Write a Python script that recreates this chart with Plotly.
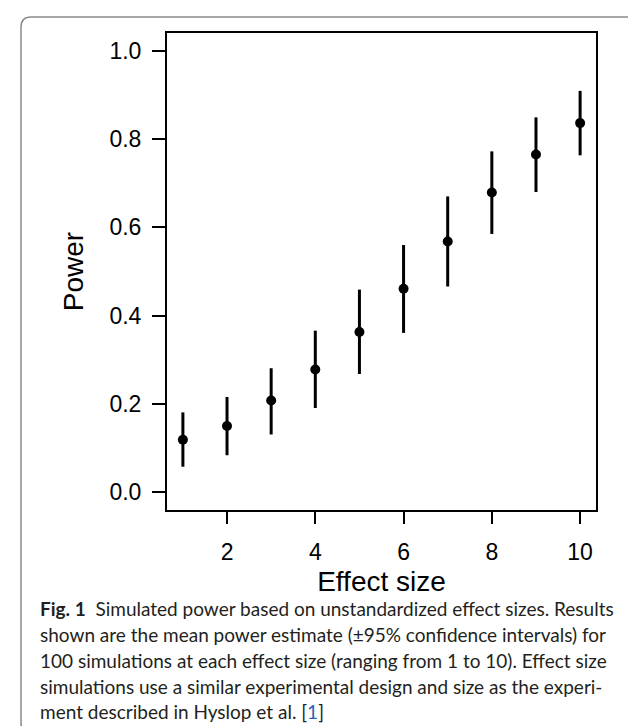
import plotly.graph_objects as go

# ---- data ----
effect_size = [1, 2, 3, 4, 5, 6, 7, 8, 9, 10]
power_mean = [0.119, 0.150, 0.208, 0.278, 0.363, 0.461, 0.568, 0.679, 0.765, 0.836]
power_lo = [0.058, 0.084, 0.131, 0.191, 0.268, 0.361, 0.466, 0.585, 0.680, 0.763]
power_hi = [0.181, 0.216, 0.281, 0.366, 0.459, 0.560, 0.670, 0.772, 0.849, 0.909]
x_ticks = [2, 4, 6, 8, 10]
y_ticks = [0.0, 0.2, 0.4, 0.6, 0.8, 1.0]
y_tick_labels = ["0.0", "0.2", "0.4", "0.6", "0.8", "1.0"]
x_title = "Effect size"
y_title = "Power"
caption_lines = [
    "<b>Fig. 1</b>  Simulated power based on unstandardized effect sizes. Results",
    "shown are the mean power estimate (\u00b195% confidence intervals) for",
    "100 simulations at each effect size (ranging from 1 to 10). Effect size",
    "simulations use a similar experimental design and size as the experi-",
    "ment described in Hyslop et al. [<span style='color:#2f5fb3'>1</span>]",
]

# ---- layout geometry ----
W, H = 636, 726
ML, MR, MT, MB = 159, 48, 25, 224
PW, PH = W - ML - MR, H - MT - MB


def px(xp):
    return (xp - ML) / PW


def py(yp):
    return (H - MB - yp) / PH


err_plus = [h - m for h, m in zip(power_hi, power_mean)]
err_minus = [m - l for m, l in zip(power_mean, power_lo)]

fig = go.Figure()
fig.add_trace(go.Scatter(
    x=effect_size, y=power_mean, mode="markers",
    marker=dict(color="black", size=10),
    error_y=dict(type="data", symmetric=False, array=err_plus, arrayminus=err_minus,
                 color="black", thickness=3, width=0),
    showlegend=False,
))

axis_font = dict(family="Liberation Sans, Arial, sans-serif", size=23, color="black")
fig.update_xaxes(
    range=[0.64, 10.36], tickvals=x_ticks, showgrid=False, zeroline=False,
    showline=True, linecolor="black", linewidth=2, mirror=True,
    ticks="outside", ticklen=12, tickwidth=2, tickcolor="black",
    tickfont=axis_font, ticklabelstandoff=8,
    title=dict(text=x_title, font=dict(family="Liberation Sans, Arial, sans-serif", size=28, color="black"), standoff=8),
)
fig.update_yaxes(
    range=[-0.04, 1.04], tickvals=y_ticks, ticktext=y_tick_labels, showgrid=False, zeroline=False,
    showline=True, linecolor="black", linewidth=2, mirror=True,
    ticks="outside", ticklen=13, tickwidth=2, tickcolor="black",
    tickfont=axis_font, ticklabelstandoff=6,
    title=dict(text=y_title, font=dict(family="Liberation Sans, Arial, sans-serif", size=28, color="black"), standoff=18),
)

# outer rounded frame
L, R, T, B, r = 13, 634, 9, 725, 10
path = (
    f"M {px(L + r)} {py(T)} L {px(R - r)} {py(T)} Q {px(R)} {py(T)} {px(R)} {py(T + r)} "
    f"L {px(R)} {py(B - r)} Q {px(R)} {py(B)} {px(R - r)} {py(B)} "
    f"L {px(L + r)} {py(B)} Q {px(L)} {py(B)} {px(L)} {py(B - r)} "
    f"L {px(L)} {py(T + r)} Q {px(L)} {py(T)} {px(L + r)} {py(T)} Z"
)
fig.add_shape(type="path", path=path, xref="paper", yref="paper",
              line=dict(color="#8a8a8a", width=1.5), layer="below")

baselines = [606, 632, 658, 684, 709]
for line, b in zip(caption_lines, baselines):
    fig.add_annotation(
        x=px(30), y=py(b - 6), xref="paper", yref="paper",
        text=line, showarrow=False, xanchor="left", yanchor="middle", align="left",
        font=dict(family="Lato, Open Sans, sans-serif", size=19, color="#231f20"),
    )

fig.update_layout(
    width=W, height=H, margin=dict(l=ML, r=MR, t=MT, b=MB, autoexpand=False),
    paper_bgcolor="white", plot_bgcolor="white",
)

fig.write_html("out.html")
